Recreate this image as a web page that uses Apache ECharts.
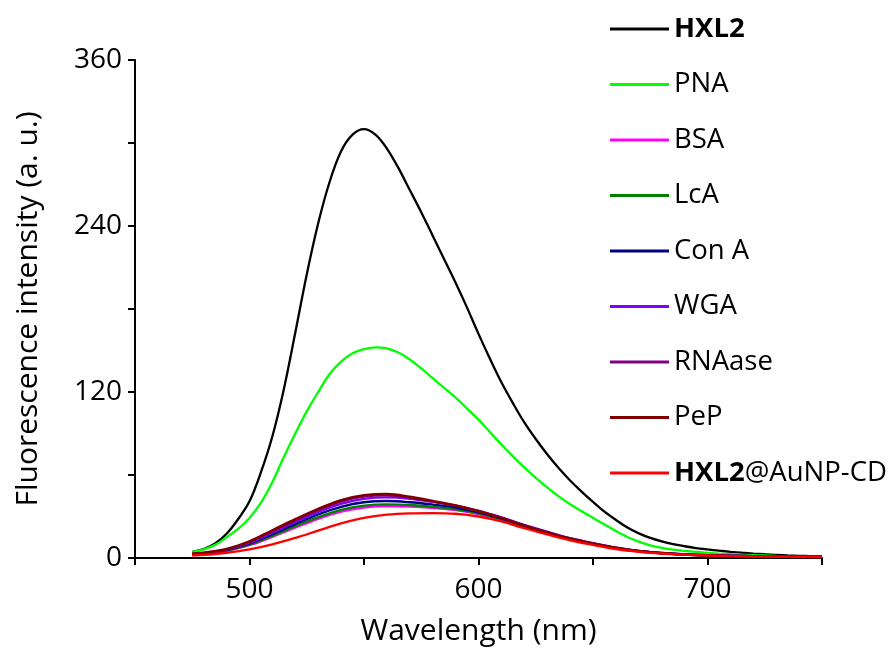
<!DOCTYPE html>
<html>
<head>
<meta charset="utf-8">
<script src="https://cdn.jsdelivr.net/npm/echarts@6/dist/echarts.min.js"></script>
<style>html,body{margin:0;padding:0;background:#fff;}#c{width:893px;height:650px;}</style>
</head>
<body>
<div id="c"></div>
<script>
// wavelengths (nm) for the two strong spectra (5 nm steps)
var wavelengthFine = [475,480,485,490,495,500,505,510,515,520,525,530,535,540,545,550,555,560,565,570,575,580,585,590,595,600,605,610,615,620,625,630,635,640,645,650,655,660,665,670,675,680,685,690,695,700,705,710,715,720,725,730,735,740,745,750];
var hxl2 = [4.5,6.5,10.5,17.5,28,41,62,88,122,163,205,242,272,294,306,310,306,296,282,266,250,233,216,199,181,162,144,127,112,98,86,75,65,56,48,40.5,33.5,27.5,22,17.8,14.5,12,10,8.5,7.2,6.2,5.3,4.5,3.8,3.2,2.7,2.3,1.9,1.6,1.3,1];
var pna  = [4.5,6.3,9.5,15,21,29,40,55,73,90,106,120,133,142,148,151,152.3,151.5,148.5,143.5,137,130,123,116,108,100,91,82,73.5,65.5,58,51,44.5,38.8,33.8,29,24.2,19.5,15.2,11.8,9.2,7.4,6.1,5.2,4.4,3.7,3.2,2.8,2.4,2.1,1.8,1.5,1.3,1.1,0.9,0.8];

// wavelengths (nm) for the quenched spectra (10 nm steps)
var wavelength = [475,480,490,500,510,520,530,540,550,560,570,580,590,600,610,620,630,640,650,660,670,680,690,700,710,720,730,740,750];
var bsa    = [2.5,3.2,5.2,9.2,15.3,22,28.3,33.5,36.5,37.5,37.2,36.2,34.6,31.8,27.8,22.6,17.8,13.4,10,7,4.8,3.4,2.5,1.9,1.5,1.2,1,0.9,0.8];
var lca    = [2.6,3.3,5.4,9.6,16,23,29.5,34.8,37.8,38.8,38.3,37,35.2,32.2,28,22.8,18,13.6,10.2,7.1,4.9,3.4,2.5,1.9,1.5,1.2,1,0.9,0.8];
var conA   = [2.7,3.4,5.7,10.3,17.2,24.5,31.5,37,40.3,41.2,40.3,38.6,36.5,33,28.5,23.2,18.3,13.8,10.3,7.2,5,3.5,2.6,2,1.6,1.3,1.1,0.9,0.8];
var wga    = [2.8,3.6,6,11,18.3,26,33.2,39.2,42.8,43.8,42.8,40.5,37.9,34,29.3,24,19,14.3,10.8,7.5,5.2,3.6,2.7,2.1,1.7,1.4,1.2,1,0.9];
var rnaase = [2.9,3.7,6.3,11.5,19.2,27,34.5,40.8,44.3,45.2,43.5,40.8,37.8,33.8,29,23.5,18.5,14,10.5,7.3,5,3.5,2.6,2,1.6,1.3,1.1,0.9,0.8];
var pep    = [3,3.8,6.5,12,20,28,35.5,41.8,45.3,46.2,44.2,41.2,38,34,29,23.5,18.5,14,10.5,7.3,5,3.5,2.6,2,1.6,1.3,1.1,0.9,0.8];
var aunp   = [1.8,2.2,3.8,6.2,9.8,14.5,19.8,25,29,31.3,32.3,32.5,32,30,26.5,21.5,17,12.8,9.5,6.5,4.5,3.2,2.4,1.8,1.4,1.1,0.9,0.7,0.6];

var seriesNames = ['HXL2','PNA','BSA','LcA','Con A','WGA','RNAase','PeP','HXL2@AuNP-CD'];
var seriesData = [hxl2,pna,bsa,lca,conA,wga,rnaase,pep,aunp];
var seriesX = [wavelengthFine,wavelengthFine,wavelength,wavelength,wavelength,wavelength,wavelength,wavelength,wavelength];
var seriesColors = ['#000000','#00FF00','#FF00FF','#008000','#000080','#8000FF','#800080','#800000','#FF0000'];
var yTickLabels = [0,120,240,360];
var xTickLabels = [500,600,700];

var FONT = 'Open Sans';
function pairs(xs, ys){ return xs.map(function(x,i){ return [x, ys[i]]; }); }

var series = seriesNames.map(function(n,i){
  return {
    name: n, type: 'line', data: pairs(seriesX[i], seriesData[i]), smooth: 0.35,
    symbol: 'none', showSymbol: false,
    lineStyle: {color: seriesColors[i], width: (n === 'PeP' ? 2.6 : 2.3)},
    itemStyle: {color: seriesColors[i]}
  };
});

var chart = echarts.init(document.getElementById('c'), null, {renderer:'canvas'});
chart.setOption({
  animation: false,
  backgroundColor: '#fff',
  grid: {left: 135, right: 71, top: 60, bottom: 92, containLabel: false, outerBoundsMode: 'none'},
  legend: {
    orient: 'vertical', left: 605, top: 7,
    icon: 'rect', itemWidth: 59, itemHeight: 3, itemGap: 21.5,
    data: seriesNames,
    textStyle: {fontFamily: FONT, fontSize: 27.5, color: '#000', lineHeight: 34,
      rich: {b: {fontFamily: FONT, fontSize: 27.5, fontWeight: 'bold', color: '#000', lineHeight: 34}}},
    formatter: function(name){
      if (name === 'HXL2') return '{b|HXL2}';
      if (name === 'HXL2@AuNP-CD') return '{b|HXL2}@AuNP-CD';
      return name;
    }
  },
  xAxis: {
    type: 'value', min: 450, max: 750, interval: 50,
    name: 'Wavelength (nm)', nameLocation: 'middle', nameGap: 58,
    nameTextStyle: {fontFamily: FONT, fontSize: 30, color: '#000'},
    axisLine: {show: true, onZero: false, lineStyle: {color: '#000', width: 2}},
    axisTick: {show: true, inside: false, length: 7, lineStyle: {color: '#000', width: 2}},
    axisLabel: {fontFamily: FONT, fontSize: 28, color: '#000', margin: 18,
      formatter: function(v){ return xTickLabels.indexOf(v) >= 0 ? String(v) : ''; }},
    splitLine: {show: false}
  },
  yAxis: {
    type: 'value', min: 0, max: 360, interval: 60,
    name: 'Fluorescence intensity (a. u.)', nameLocation: 'middle', nameGap: 92,
    nameTextStyle: {fontFamily: FONT, fontSize: 30, color: '#000'},
    axisLine: {show: true, lineStyle: {color: '#000', width: 2}},
    axisTick: {show: true, inside: false, length: 7, lineStyle: {color: '#000', width: 2}},
    axisLabel: {fontFamily: FONT, fontSize: 28, color: '#000', margin: 13,
      formatter: function(v){ return yTickLabels.indexOf(v) >= 0 ? String(v) : ''; }},
    splitLine: {show: false}
  },
  series: series
});
</script>
</body>
</html>
